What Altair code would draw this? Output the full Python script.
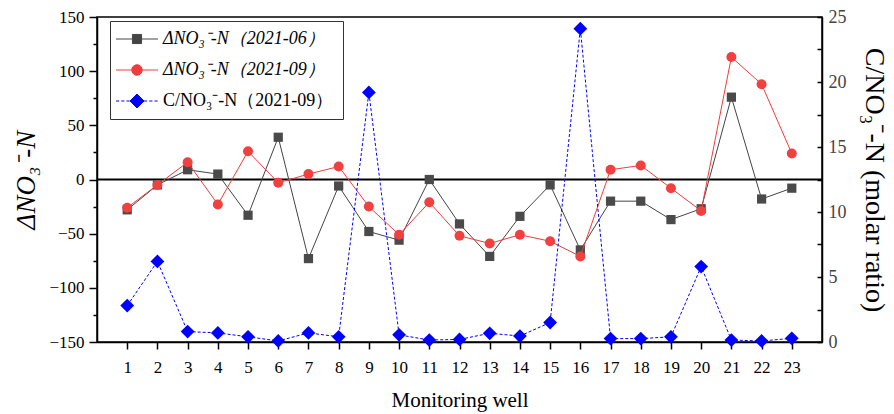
import altair as alt
import pandas as pd

wells = list(range(1, 24))
no3_jun = [-28, -5, 9, 5, -33, 39, -73, -6, -48, -56, 0, -41, -71, -34, -5, -65, -20, -20, -37, -27, 76, -18, -8]
no3_sep = [-26, -5, 16, -23, 26, -3, 5, 12, -25, -51, -21, -52, -59, -51, -57, -71, 9, 13, -8, -29, 113, 88, 24]
cn_sep = [2.8, 6.2, 0.8, 0.7, 0.4, 0.08, 0.7, 0.4, 19.2, 0.55, 0.15, 0.2, 0.67, 0.46, 1.5, 24.1, 0.26, 0.26, 0.4, 5.8, 0.15, 0.08, 0.28]

labels = ["ΔNO₃⁻-N（2021-06）", "ΔNO₃⁻-N（2021-09）", "C/NO₃⁻-N（2021-09）"]
colors = ["#444444", "#f03c3c", "#0000ff"]

df_jun = pd.DataFrame({"well": wells, "v": no3_jun})
df_sep = pd.DataFrame({"well": wells, "v": no3_sep})
df_cn = pd.DataFrame({"well": wells, "v": cn_sep})
df_leg = pd.DataFrame({"series": labels})
df_zero = pd.DataFrame({"v": [0]})

W, H = 725, 325
FONT = "Liberation Serif"

# legend symbol paths (line + marker); unit = half of sqrt(symbolSize)
def dashed(x0, x1, d=0.45, g=0.3):
    s, x = "", x0
    while x < x1:
        e = min(x + d, x1)
        s += f"M{x:.2f},0H{e:.2f}"
        x = e + g
    return s

sq = "M-3,0H-0.65M0.65,0H3M-0.65,-0.65H0.65V0.65H-0.65Z"
ci = "M-3,0H-0.75M0.75,0H3M-0.75,0A0.75,0.75,0,1,0,0.75,0A0.75,0.75,0,1,0,-0.75,0Z"
di = dashed(-3, -1.0) + dashed(1.0, 3) + "M0,-1.0L1.0,0L0,1.0L-1.0,0Z"

xenc = alt.X("well:Q", scale=alt.Scale(domain=[0, 24], nice=False, zero=False),
             axis=alt.Axis(values=wells, title="Monitoring well", tickSize=7, tickWidth=1.5,
                           domainWidth=1.5, domainColor="black", tickColor="black",
                           labelFont=FONT, labelFontSize=17, labelColor="black", labelPadding=10,
                           titleFont=FONT, titleFontSize=21, titleFontWeight="normal",
                           titleColor="black", titlePadding=14, grid=False))

yleft_axis = alt.Axis(values=list(range(-150, 151, 25)),
                      labelExpr="datum.value % 50 == 0 ? datum.label : ''",
                      tickSize={"condition": {"test": "datum.value % 50 != 0", "value": 4}, "value": 8},
                      tickWidth=1.5, domainWidth=1.5, domainColor="black", tickColor="black",
                      labelFont=FONT, labelFontSize=17, labelColor="black", labelPadding=5,
                      title="ΔNO₃⁻-N", titleFont=FONT, titleFontSize=27, titleFontStyle="italic",
                      titleFontWeight="normal", titleColor="black", titlePadding=8, grid=False)
yleft = alt.Scale(domain=[-150, 150], nice=False)

zero = alt.Chart(df_zero).mark_rule(color="black", strokeWidth=2).encode(
    y=alt.Y("v:Q", scale=yleft, axis=yleft_axis))
l_jun = alt.Chart(df_jun).mark_line(color="#444444", strokeWidth=1).encode(
    x=xenc, y=alt.Y("v:Q", scale=yleft, axis=yleft_axis))
p_jun = alt.Chart(df_jun).mark_point(shape="square", filled=True, size=85, color="#4a4a4a", opacity=1).encode(
    x=xenc, y=alt.Y("v:Q", scale=yleft, axis=yleft_axis))
l_sep = alt.Chart(df_sep).mark_line(color="#f03c3c", strokeWidth=1).encode(
    x=xenc, y=alt.Y("v:Q", scale=yleft, axis=yleft_axis))
p_sep = alt.Chart(df_sep).mark_point(shape="circle", filled=True, size=100, color="#f04040", opacity=1).encode(
    x=xenc, y=alt.Y("v:Q", scale=yleft, axis=yleft_axis))

leg = alt.Legend(title=None, orient="none", legendX=13, legendY=4, padding=9,
                 strokeColor="#333333", fillColor="white",
                 labelFont=FONT, labelFontSize=18, labelColor="black", labelLimit=400,
                 labelFontStyle={"expr": "indexof(datum.label, 'Δ') == 0 ? 'italic' : 'normal'"},
                 symbolSize=196, symbolOffset=9, labelOffset=17, rowPadding=13,
                 symbolStrokeWidth=1, symbolOpacity=1)
legend_layer = alt.Chart(df_leg).mark_point(opacity=0, filled=True).encode(
    fill=alt.Fill("series:N", scale=alt.Scale(domain=labels, range=colors), legend=leg),
    stroke=alt.Stroke("series:N", scale=alt.Scale(domain=labels, range=colors), legend=leg),
    shape=alt.Shape("series:N", scale=alt.Scale(domain=labels, range=[sq, ci, di]), legend=leg),
)

left = alt.layer(zero, l_jun, p_jun, l_sep, p_sep, legend_layer)

yright = alt.Scale(domain=[0, 25], nice=False)
right_axis = alt.Axis(orient="right", values=[0, 5, 10, 15, 20, 25], ticks=False,
                      labelExpr="format(datum.value, 'd')",
                      domainWidth=1.5, domainColor="black",
                      labelFont=FONT, labelFontSize=18, labelColor="#444444", labelPadding=6,
                      title="C/NO₃⁻-N (molar ratio)", titleFont=FONT, titleFontSize=28,
                      titleFontWeight="normal", titleColor="black", titlePadding=13, grid=False)
right_ticks = alt.Axis(orient="left", offset=-W, values=[i * 2.5 for i in range(11)],
                       labels=False, domain=False, title=None, tickSize=5, tickWidth=1.5,
                       tickColor="black", grid=False)

l_cn = alt.Chart(df_cn).mark_line(color="#0000ff", strokeWidth=1, strokeDash=[3, 2]).encode(
    x=xenc, y=alt.Y("v:Q", scale=yright, axis=right_axis))
p_cn = alt.Chart(df_cn).mark_point(shape="diamond", filled=True, size=190, color="#0000ff", opacity=1).encode(
    x=xenc, y=alt.Y("v:Q", scale=yright, axis=right_ticks))
right = alt.layer(l_cn, p_cn).resolve_axis(y="independent")

chart = alt.layer(left, right).resolve_scale(y="independent").properties(
    width=W, height=H,
    padding={"left": 97, "top": 17, "right": 72, "bottom": 72},
    autosize=alt.AutoSizeParams(type="none"),
).configure_view(stroke="black", strokeWidth=1.5)

chart.save("out.html", embed_options={"renderer": "svg", "actions": False})
